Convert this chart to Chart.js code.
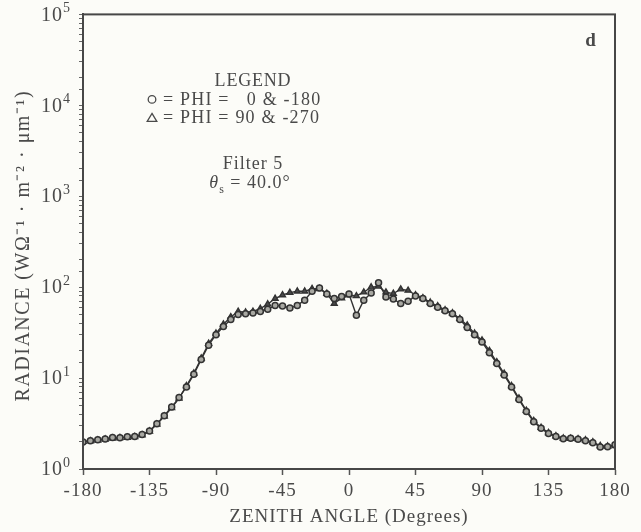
<!DOCTYPE html>
<html>
<head>
<meta charset="utf-8">
<script src="https://cdn.jsdelivr.net/npm/chart.js@4/dist/chart.umd.min.js"></script>
<style>
  html, body { margin: 0; padding: 0; background: #fcfcf8; }
  #wrap { width: 641px; height: 532px; position: relative; }
</style>
</head>
<body>
<div id="wrap"><canvas id="c" width="641" height="532"></canvas></div>
<script>
// ---- data ----
const angles = [-180,-175,-170,-165,-160,-155,-150,-145,-140,-135,-130,-125,-120,-115,-110,-105,-100,-95,-90,-85,-80,-75,-70,-65,-60,-55,-50,-45,-40,-35,-30,-25,-20,-15,-10,-5,0,5,10,15,20,25,30,35,40,45,50,55,60,65,70,75,80,85,90,95,100,105,110,115,120,125,130,135,140,145,150,155,160,165,170,175,180];
const phi0Radiance = [1.98,2.05,2.1,2.14,2.22,2.2,2.26,2.28,2.4,2.62,3.15,3.85,4.8,6.1,8.0,11.0,16,23,30,37,44,50,51,52,54,57,63,62,59,63,72,90,98,84,75,79,84,49,72,86,112,78,74,66,70,80,75,66,60,55,51,44,36,30,25,19,14.5,10.8,8.0,5.8,4.3,3.3,2.8,2.45,2.28,2.15,2.18,2.12,2.05,1.95,1.75,1.76,1.85];
const phi90Radiance = [2.0,2.03,2.07,2.12,2.18,2.2,2.22,2.26,2.36,2.6,3.1,3.8,4.7,6.0,8.2,11.3,16.5,24,31,39,47,54,53,54,58,65,75,82,87,90,90,96,96,85,66,76,82,80,88,100,102,88,85,95,92,82,76,68,62,56,52,45,38,31,26,20,15,11.2,8.2,6.0,4.4,3.4,2.85,2.5,2.3,2.18,2.16,2.14,2.08,1.98,1.8,1.78,1.8];
const xTickValues = [-180,-135,-90,-45,0,45,90,135,180];
const yDecades = [1,10,100,1000,10000,100000];
const legendLines = ["LEGEND", "= PHI =   0 & -180", "= PHI = 90 & -270"];
const noteLines = ["Filter 5"];
const panelLetter = "d";
const yTitle = 'RADIANCE (W\u03a9\u207b\u00b9 \u00b7 m\u207b\u00b2 \u00b7 \u03bcm\u207b\u00b9)';
const xTitle = 'ZENITH ANGLE (Degrees)';

// ---- styles ----
const INK = '#333333';
const TXT = '#4a4a4a';
const FONT = "'Liberation Serif', 'Times New Roman', serif";

const spacingPlugin = {
  id: 'spacing',
  beforeUpdate(chart) { chart.ctx.letterSpacing = '1px'; },
  beforeDraw(chart) { chart.ctx.letterSpacing = '1px'; }
};

const framePlugin = {
  id: 'frame',
  afterDatasetsDraw(chart) {
    const {ctx, chartArea: a} = chart;
    ctx.save();
    ctx.strokeStyle = '#474747';
    ctx.lineWidth = 2;
    ctx.strokeRect(a.left, a.top, a.right - a.left, a.bottom - a.top);
    ctx.restore();
  },
  afterDraw(chart) {
    const {ctx, chartArea: a} = chart;
    const ys = chart.scales.y;
    ctx.save();
    ctx.fillStyle = TXT;
    ctx.textBaseline = 'middle';

    // y tick labels: 10 with raised exponent
    yDecades.forEach(v => {
      const py = ys.getPixelForValue(v);
      const e = String(Math.round(Math.log10(v)));
      ctx.letterSpacing = '0.5px';
      ctx.font = '14px ' + FONT;
      ctx.textAlign = 'left';
      ctx.fillText(e, a.left - 20, py - 6);
      ctx.font = '20px ' + FONT;
      ctx.textAlign = 'right';
      ctx.letterSpacing = '1px';
      ctx.fillText('10', a.left - 20, py + 1);
    });

    // y title, rotated
    ctx.save();
    ctx.translate(24, (a.top + a.bottom) / 2 + 4);
    ctx.rotate(-Math.PI / 2);
    ctx.letterSpacing = '1.5px';
    ctx.font = '20px ' + FONT;
    ctx.textAlign = 'center';
    ctx.fillText(yTitle, 0, 0);
    ctx.restore();

    // legend block
    ctx.letterSpacing = '0.8px';
    ctx.font = '18px ' + FONT;
    ctx.textAlign = 'center';
    const cx = a.left + 170;
    ctx.fillText(legendLines[0], cx, a.top + 67);
    ctx.letterSpacing = '1.2px';
    ctx.textAlign = 'left';
    const tx = a.left + 80;
    ctx.fillText(legendLines[1], tx, a.top + 86);
    ctx.fillText(legendLines[2], tx, a.top + 104);
    ctx.strokeStyle = TXT;
    ctx.lineWidth = 1.3;
    const mx = a.left + 69;
    ctx.beginPath();
    ctx.arc(mx, a.top + 85, 3.8, 0, Math.PI * 2);
    ctx.stroke();
    ctx.beginPath();
    ctx.moveTo(mx, a.top + 99);
    ctx.lineTo(mx + 4.8, a.top + 107);
    ctx.lineTo(mx - 4.8, a.top + 107);
    ctx.closePath();
    ctx.stroke();
    ctx.letterSpacing = '1px';
    ctx.textAlign = 'center';
    ctx.fillText(noteLines[0], cx, a.top + 150);
    // theta_s = 40.0°
    const t1 = '\u03b8';
    const rest = ' = 40.0\u00b0';
    ctx.font = 'italic 18px ' + FONT;
    const w1 = ctx.measureText(t1).width;
    ctx.font = '12px ' + FONT;
    const w2 = ctx.measureText('s').width;
    ctx.font = '18px ' + FONT;
    const w3 = ctx.measureText(rest).width;
    const x0 = cx - 3 - (w1 + w2 + w3) / 2;
    ctx.textAlign = 'left';
    ctx.font = 'italic 18px ' + FONT;
    ctx.fillText(t1, x0, a.top + 169);
    ctx.font = '12px ' + FONT;
    ctx.fillText('s', x0 + w1, a.top + 175);
    ctx.font = '18px ' + FONT;
    ctx.fillText(rest, x0 + w1 + w2, a.top + 169);
    // panel letter
    ctx.textAlign = 'center';
    ctx.font = 'bold 19px ' + FONT;
    ctx.fillText(panelLetter, a.right - 24, a.top + 27);
    ctx.restore();
  }
};

const ctx = document.getElementById('c').getContext('2d');
new Chart(ctx, {
  type: 'line',
  data: {
    datasets: [
      {
        label: 'PHI = 0 & -180',
        data: angles.map((x, i) => ({x, y: phi0Radiance[i]})),
        borderColor: INK,
        borderWidth: 1.4,
        pointStyle: 'circle',
        pointRadius: 3,
        pointBorderWidth: 1.5,
        pointBackgroundColor: '#a8a8a2',
        pointBorderColor: INK,
        tension: 0
      },
      {
        label: 'PHI = 90 & -270',
        data: angles.map((x, i) => ({x, y: phi90Radiance[i]})),
        borderColor: INK,
        borderWidth: 1.4,
        pointStyle: 'triangle',
        pointRadius: 3.4,
        pointBorderWidth: 1.4,
        pointBackgroundColor: '#4a4a4a',
        pointBorderColor: INK,
        tension: 0
      }
    ]
  },
  options: {
    responsive: false,
    animation: false,
    devicePixelRatio: 1,
    layout: { padding: { top: 14, right: 26, left: 0, bottom: 0 } },
    plugins: { legend: { display: false }, tooltip: { enabled: false } },
    scales: {
      x: {
        type: 'linear',
        min: -180, max: 180,
        afterBuildTicks: s => { s.ticks = xTickValues.map(v => ({value: v})); },
        afterFit: s => { s.height = 63; },
        ticks: { color: TXT, font: { family: FONT, size: 19 }, padding: 5, maxRotation: 0 },
        grid: { drawOnChartArea: false, drawTicks: true, tickLength: 6, tickColor: '#555', tickWidth: 1.5 },
        border: { display: true, color: '#474747', width: 2 },
        title: { display: true, text: xTitle, color: TXT, font: { family: FONT, size: 19 }, padding: { top: 0, bottom: 4 } }
      },
      y: {
        type: 'logarithmic',
        min: 1, max: 100000,
        afterFit: s => { s.width = 83; },
        ticks: {
          color: TXT, font: { family: FONT, size: 19 }, padding: 3, autoSkip: false,
          callback: () => ''
        },
        grid: { drawOnChartArea: false, drawTicks: true, tickLength: 4, tickColor: '#666', tickWidth: 1 },
        border: { display: true, color: '#474747', width: 2 },
        title: { display: false }
      }
    }
  },
  plugins: [spacingPlugin, framePlugin]
});
</script>
</body>
</html>
